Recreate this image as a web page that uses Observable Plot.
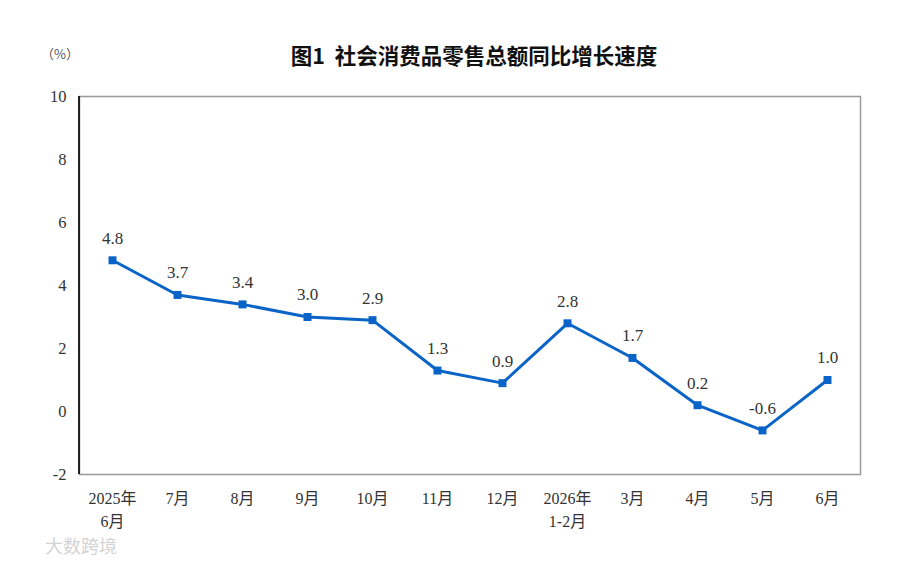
<!DOCTYPE html>
<html><head><meta charset="utf-8">
<script src="https://cdn.jsdelivr.net/npm/d3@7"></script>
<script src="https://cdn.jsdelivr.net/npm/@observablehq/plot@0.6"></script>
<style>body{margin:0;background:#fff;} #c{position:relative;width:900px;height:563px;}</style>
</head><body><div id="c"></div>
<script>
const months = ["2025年\n6月","7月","8月","9月","10月","11月","12月","2026年\n1-2月","3月","4月","5月","6月"];
const growth = [4.8,3.7,3.4,3.0,2.9,1.3,0.9,2.8,1.7,0.2,-0.6,1.0];
const yTicks = [-2,0,2,4,6,8,10];
const title = "图1  社会消费品零售总额同比增长速度";
const unit = "（%）";

const data = months.map((m,i)=>({m, v:growth[i]}));
const serif = "'Liberation Serif','Noto Sans CJK SC',serif";
const blue = "#0a64c8";

const chart = Plot.plot({
  width: 900, height: 563,
  marginTop: 96, marginBottom: 89, marginLeft: 79, marginRight: 40,
  style: {fontFamily: serif, fontSize: "16px", color: "#333", background: "#fff"},
  x: {type: "point", domain: months, padding: 0.5, label: null},
  y: {domain: [-2, 10], label: null},
  marks: [
    Plot.frame({stroke: "#999", strokeWidth: 1.5}),
    Plot.axisX({tickSize: 0, tickPadding: 14, fontSize: 16, lineHeight: 1.4, fill: "#333"}),
    Plot.axisY({ticks: yTicks, tickSize: 0, tickPadding: 13, fontSize: 16.5, fill: "#333", tickFormat: d=>String(d)}),
    Plot.line(data, {x: "m", y: "v", stroke: blue, strokeWidth: 3}),
    Plot.dot(data, {x: "m", y: "v", symbol: "square", r: 4.5, fill: blue, stroke: "none"}),
    Plot.text(data, {x: "m", y: "v", text: d => d.v.toFixed(1), dy: -22, fontSize: 17, fill: "#333", fontFamily: serif})
  ]
});
document.getElementById("c").appendChild(chart);
const svg = d3.select(chart);
svg.append("line").attr("x1",79).attr("x2",79).attr("y1",96).attr("y2",474).attr("stroke","#222").attr("stroke-width",2);
svg.append("text").attr("x",474).attr("y",64).attr("text-anchor","middle")
  .attr("font-family","'Noto Sans CJK SC',sans-serif").attr("font-weight","bold").attr("font-size",21.5).attr("fill","#111").text(title);
svg.append("text").attr("x",60).attr("y",59).attr("text-anchor","middle")
  .attr("font-family","'Noto Sans CJK SC',sans-serif").attr("font-size",13).attr("fill","#555").text(unit);
svg.append("text").attr("x",45).attr("y",553).attr("text-anchor","start")
  .attr("font-family","'Noto Sans CJK SC',sans-serif").attr("font-size",18).attr("fill","#d4d4d4").text("大数跨境");
</script></body></html>
